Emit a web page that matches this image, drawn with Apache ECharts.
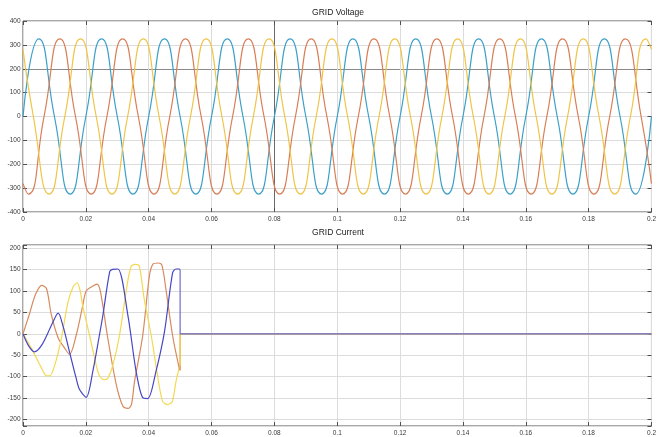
<!DOCTYPE html>
<html>
<head>
<meta charset="utf-8">
<script src="https://cdn.jsdelivr.net/npm/echarts@6.0.0/dist/echarts.min.js"></script>
<style>
html, body { margin: 0; padding: 0; background: #fff; }
#main { width: 659px; height: 437px; }
</style>
</head>
<body>
<div id="main"></div>
<script>
// grid voltage, three phases, [time s, volts] at zero crossings and peaks
var voltBlue = [
    [0, 0], [0.005, 325], [0.01, 0], [0.015, -325],
    [0.02, 0], [0.025, 325], [0.03, 0], [0.035, -325],
    [0.04, 0], [0.045, 325], [0.05, 0], [0.055, -325],
    [0.06, 0], [0.065, 325], [0.07, 0], [0.075, -325],
    [0.08, 0], [0.085, 325], [0.09, 0], [0.095, -325],
    [0.1, 0], [0.105, 325], [0.11, 0], [0.115, -325],
    [0.12, 0], [0.125, 325], [0.13, 0], [0.135, -325],
    [0.14, 0], [0.145, 325], [0.15, 0], [0.155, -325],
    [0.16, 0], [0.165, 325], [0.17, 0], [0.175, -325],
    [0.18, 0], [0.185, 325], [0.19, 0], [0.195, -325],
    [0.2, 0]
];
var voltOrange = [
    [0, -281], [0.0017, -325], [0.0067, 0], [0.0117, 325], [0.0167, 0],
    [0.0217, -325], [0.0267, 0], [0.0317, 325], [0.0367, 0],
    [0.0417, -325], [0.0467, 0], [0.0517, 325], [0.0567, 0],
    [0.0617, -325], [0.0667, 0], [0.0717, 325], [0.0767, 0],
    [0.0817, -325], [0.0867, 0], [0.0917, 325], [0.0967, 0],
    [0.1017, -325], [0.1067, 0], [0.1117, 325], [0.1167, 0],
    [0.1217, -325], [0.1267, 0], [0.1317, 325], [0.1367, 0],
    [0.1417, -325], [0.1467, 0], [0.1517, 325], [0.1567, 0],
    [0.1617, -325], [0.1667, 0], [0.1717, 325], [0.1767, 0],
    [0.1817, -325], [0.1867, 0], [0.1917, 325], [0.1967, 0],
    [0.2, -281]
];
var voltYellow = [
    [0, 281], [0.0033, 0], [0.0083, -325], [0.0133, 0], [0.0183, 325],
    [0.0233, 0], [0.0283, -325], [0.0333, 0], [0.0383, 325],
    [0.0433, 0], [0.0483, -325], [0.0533, 0], [0.0583, 325],
    [0.0633, 0], [0.0683, -325], [0.0733, 0], [0.0783, 325],
    [0.0833, 0], [0.0883, -325], [0.0933, 0], [0.0983, 325],
    [0.1033, 0], [0.1083, -325], [0.1133, 0], [0.1183, 325],
    [0.1233, 0], [0.1283, -325], [0.1333, 0], [0.1383, 325],
    [0.1433, 0], [0.1483, -325], [0.1533, 0], [0.1583, 325],
    [0.1633, 0], [0.1683, -325], [0.1733, 0], [0.1783, 325],
    [0.1833, 0], [0.1883, -325], [0.1933, 0], [0.1983, 325],
    [0.2, 281]
];

// grid current until the breaker opens at 0.05 s
var currOrange = [
    [0, 0], [0.002, 45], [0.004, 92], [0.006, 113], [0.0075, 105], [0.009, 45],
    [0.0112, -10], [0.0133, -34], [0.0148, -48], [0.0169, -4], [0.019, 65],
    [0.0201, 100], [0.022, 110], [0.0235, 116], [0.0246, 100], [0.027, -11],
    [0.0297, -119], [0.0318, -169], [0.0334, -174], [0.0345, -165], [0.0355, -111],
    [0.0381, -4], [0.0402, 134], [0.0413, 162], [0.043, 165], [0.0442, 160],
    [0.0455, 103], [0.0476, -4], [0.0497, -80], [0.05, -85]
];
var currYellow = [
    [0, 0], [0.0027, -34], [0.0059, -80], [0.0075, -98], [0.0085, -98], [0.0101, -73],
    [0.0122, -11], [0.0143, 73], [0.016, 110], [0.0172, 119], [0.0182, 100],
    [0.019, 65], [0.0212, -4], [0.0238, -88], [0.0248, -103], [0.026, -107],
    [0.027, -104], [0.0286, -73], [0.0307, -4], [0.0329, 103], [0.0344, 157],
    [0.0358, 162], [0.037, 158], [0.0386, 80], [0.0408, -4], [0.0428, -96],
    [0.0444, -157], [0.046, -165], [0.0475, -158], [0.0487, -111], [0.0497, -80],
    [0.05, -75]
];
var currBlue = [
    [0, 0], [0.0017, -27], [0.0036, -42], [0.0059, -27], [0.0085, 11], [0.0105, 42],
    [0.0112, 48], [0.0127, 19], [0.0148, -42], [0.0169, -103], [0.018, -130],
    [0.0201, -148], [0.0222, -88], [0.0243, -4], [0.0254, 42], [0.0276, 145],
    [0.0285, 150], [0.0302, 151], [0.0334, 42], [0.036, -88], [0.0381, -149],
    [0.0397, -151], [0.0423, -88], [0.045, 4], [0.0476, 142], [0.0487, 151],
    [0.0497, 151], [0.05, 150]
];
var tripTime = 0.05;
var endTime = 0.2;

var titles = ['GRID Voltage', 'GRID Current'];

var FONT = '"Liberation Sans", Arial, sans-serif';
var FRAME = '#505050';
var GRIDC = '#dcdcdc';

var chart = echarts.init(document.getElementById('main'), null, { renderer: 'canvas' });

// after the trip every phase sits on zero
function tail(arr) {
    return [arr[arr.length - 1], [tripTime, 0], [endTime, 0]];
}

function xAx(grid, pos, main, lineColors) {
    return {
        type: 'value', gridIndex: grid, position: pos,
        min: 0, max: 0.2, interval: 0.02,
        axisLine: { show: false, onZero: false },
        axisTick: { show: true, inside: true, length: 4, lineStyle: { color: FRAME } },
        axisLabel: { show: main, fontSize: 6.5, color: '#3a3a3a', margin: 4, fontFamily: FONT },
        splitLine: { show: main, lineStyle: { color: lineColors || GRIDC, width: 1 } }
    };
}

function yAx(grid, pos, main, range, lineColors) {
    var ax = {
        type: 'value', gridIndex: grid, position: pos,
        min: range[0], max: range[1],
        axisLine: { show: false, onZero: false },
        axisTick: { show: true, inside: true, length: 4, lineStyle: { color: FRAME } },
        axisLabel: {
            show: main, fontSize: 6.5, color: '#3a3a3a', margin: 2.5, fontFamily: FONT,
            formatter: function (v) { return v % range[2] === 0 ? String(v) : ''; }
        },
        splitLine: { show: main, lineStyle: { color: lineColors || GRIDC, width: 1 } }
    };
    if (range[3]) {
        ax.interval = range[2];
    } else {
        ax.splitNumber = 8;
        ax.minInterval = range[2];
        ax.maxInterval = range[2];
    }
    return ax;
}

function line(name, data, color, xi, yi, smooth) {
    return {
        name: name, type: 'line', data: data,
        xAxisIndex: xi, yAxisIndex: yi,
        smooth: smooth, showSymbol: false, symbol: 'none',
        lineStyle: { color: color, width: 1.2 },
        itemStyle: { color: color },
        silent: true, animation: false
    };
}

var topX = [GRIDC, GRIDC, GRIDC, GRIDC, '#6a6a6a', GRIDC, GRIDC, GRIDC, GRIDC, GRIDC, GRIDC];
var topY = [GRIDC, GRIDC, GRIDC, GRIDC, GRIDC, GRIDC, '#8a8a8a', GRIDC, GRIDC];

var option = {
    backgroundColor: '#fff',
    animation: false,
    graphic: [
        { type: 'text', x: 338, y: 8.5, style: { text: titles[0], textAlign: 'center', fill: '#222', font: '8.5px ' + FONT } },
        { type: 'text', x: 338, y: 228.5, style: { text: titles[1], textAlign: 'center', fill: '#222', font: '8.5px ' + FONT } }
    ],
    grid: [
        { left: 23, right: 6, top: 21, height: 191, show: true, borderColor: FRAME, borderWidth: 1, backgroundColor: '#fff' },
        { left: 23, right: 6, top: 245, height: 183.5, show: true, borderColor: FRAME, borderWidth: 1, backgroundColor: '#fff' }
    ],
    xAxis: [
        xAx(0, 'bottom', true, topX),
        xAx(0, 'top', false),
        xAx(1, 'bottom', true),
        xAx(1, 'top', false)
    ],
    yAxis: [
        yAx(0, 'left', true, [-400, 400, 100, true], topY),
        yAx(0, 'right', false, [-400, 400, 100, true]),
        yAx(1, 'left', true, [-215, 207, 50, false]),
        yAx(1, 'right', false, [-215, 207, 50, false])
    ],
    series: [
        line('Va', voltBlue, '#3a9fc9', 0, 0, 0.55),
        line('Vb', voltOrange, '#d97d55', 0, 0, 0.55),
        line('Vc', voltYellow, '#efc446', 0, 0, 0.55),
        line('Ib', currOrange, '#d68a5e', 2, 2, 0.3),
        line('Ic', currYellow, '#f3d951', 2, 2, 0.3),
        line('Ia', currBlue, '#4646c6', 2, 2, 0.3),
        line('Ib tail', tail(currOrange), '#d68a5e', 2, 2, false),
        line('Ic tail', tail(currYellow), '#f3d951', 2, 2, false),
        line('Ia tail', tail(currBlue), '#6a6ad8', 2, 2, false)
    ]
};

chart.setOption(option);
</script>
</body>
</html>
